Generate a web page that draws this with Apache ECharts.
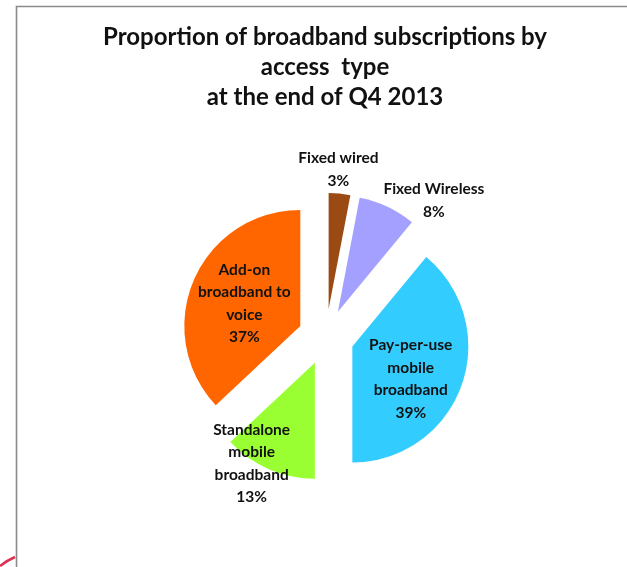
<!DOCTYPE html>
<html>
<head>
<meta charset="utf-8">
<script src="https://cdn.jsdelivr.net/npm/echarts@6/dist/echarts.min.js"></script>
<style>
html,body{margin:0;padding:0;background:#fff;}
#chart{width:627px;height:567px;}
</style>
</head>
<body>
<div id="chart"></div>
<script>
// ---- data ----
const categories = [
  'Fixed wired',
  'Fixed Wireless',
  'Pay-per-use\nmobile\nbroadband',
  'Standalone\nmobile\nbroadband',
  'Add-on\nbroadband to\nvoice'
];
const shares = [3, 8, 39, 13, 37];
const titleLines = ['Proportion of broadband subscriptions by', 'access  type', 'at the end of Q4 2013'];

// ---- styles ----
const colors = ['#9C4A14', '#A3A0FF', '#33CCFF', '#99FF33', '#FF6600'];
const labelShift = [[4, -79], [70, -56], [1, 12], [-39, 45], [0, 2]];
const FONT = 'Lato, "Open Sans", sans-serif';

const chart = echarts.init(document.getElementById('chart'), null, {renderer: 'canvas'});
chart.setOption({
  animation: false,
  backgroundColor: '#fff',
  title: {
    text: titleLines.join('\n'),
    left: 320,
    top: 17,
    textAlign: 'center',
    textStyle: {fontFamily: FONT, fontWeight: 'bold', fontSize: 24, lineHeight: 30, color: '#111'}
  },
  graphic: [
    {type: 'polyline', shape: {points: [[16.5, 567], [16.5, 6.5], [627, 6.5]]},
     style: {stroke: '#8a8a8a', lineWidth: 1.6, fill: null}, silent: true},
    {type: 'bezierCurve', shape: {x1: 0, y1: 566, x2: 15, y2: 557, cpx1: 6, cpy1: 561},
     style: {stroke: '#e03050', lineWidth: 2.5, fill: null}, silent: true}
  ],
  series: [{
    type: 'pie',
    center: [326, 337],
    radius: [0, 116],
    startAngle: 90,
    clockwise: true,
    selectedMode: 'multiple',
    selectedOffset: 28,
    silent: true,
    emphasis: {disabled: true},
    labelLine: {show: false},
    label: {
      show: true,
      position: 'inside',
      formatter: p => p.name + '\n' + p.value + '%',
      fontFamily: FONT,
      fontWeight: 'bold',
      fontSize: 15.5,
      lineHeight: 22.5,
      color: '#111',
      align: 'center'
    },
    labelLayout: p => ({dx: labelShift[p.dataIndex][0], dy: labelShift[p.dataIndex][1]}),
    data: categories.map((c, i) => ({
      name: c,
      value: shares[i],
      selected: true,
      itemStyle: {color: colors[i]}
    }))
  }]
});
</script>
</body>
</html>
